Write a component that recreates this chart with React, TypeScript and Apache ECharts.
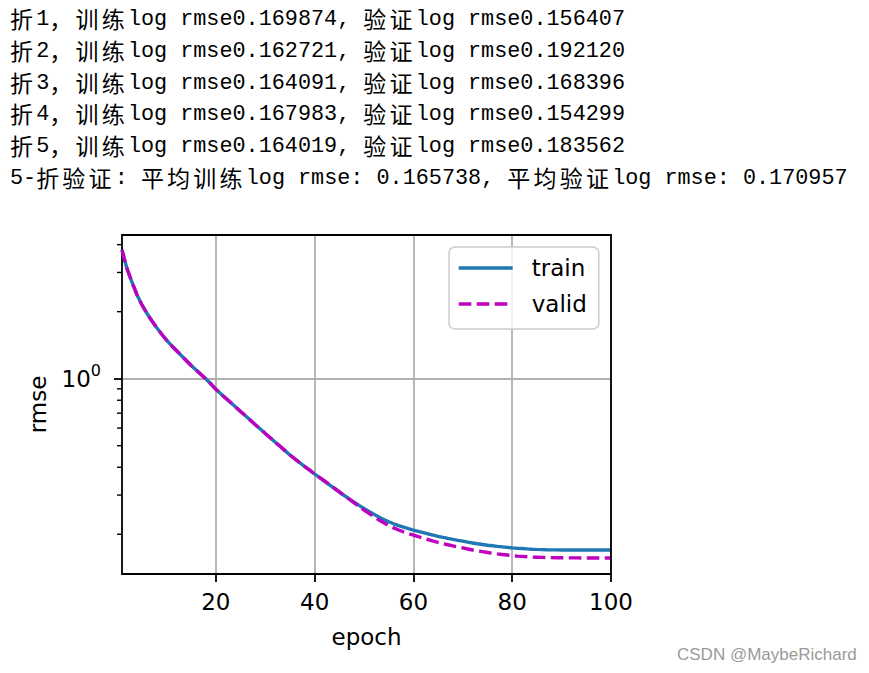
import React, { useEffect, useRef } from 'react';
import * as echarts from 'echarts';

const infoLines: string[] = [
  '折1，训练log rmse0.169874, 验证log rmse0.156407',
  '折2，训练log rmse0.162721, 验证log rmse0.192120',
  '折3，训练log rmse0.164091, 验证log rmse0.168396',
  '折4，训练log rmse0.167983, 验证log rmse0.154299',
  '折5，训练log rmse0.164019, 验证log rmse0.183562',
  '5-折验证: 平均训练log rmse: 0.165738, 平均验证log rmse: 0.170957',
];

const watermark = 'CSDN @MaybeRichard';

const epochs: number[] = Array.from({ length: 100 }, (_, i) => i + 1);

const trainRmse: number[] = [
  3.786, 3.127, 2.719, 2.389, 2.154, 1.973, 1.826, 1.698, 1.588, 1.492,
  1.41, 1.339, 1.271, 1.207, 1.146, 1.094, 1.044, 0.997, 0.947, 0.896,
  0.855, 0.817, 0.781, 0.746, 0.712, 0.681, 0.65, 0.621, 0.594, 0.567,
  0.543, 0.519, 0.497, 0.475, 0.454, 0.436, 0.419, 0.403, 0.388, 0.373,
  0.359, 0.3459, 0.3332, 0.3211, 0.3097, 0.2987, 0.2884, 0.2787, 0.2696, 0.2611,
  0.2533, 0.2461, 0.2393, 0.2332, 0.2276, 0.2229, 0.2188, 0.2152, 0.2119, 0.2089,
  0.2061, 0.2033, 0.2006, 0.1981, 0.1958, 0.1936, 0.1916, 0.1897, 0.1879, 0.1862,
  0.1845, 0.1828, 0.1813, 0.18, 0.1786, 0.1775, 0.1764, 0.1755, 0.1746, 0.1737,
  0.173, 0.1725, 0.1719, 0.1714, 0.171, 0.1707, 0.1703, 0.1702, 0.1701, 0.17,
  0.17, 0.17, 0.1699, 0.1699, 0.1699, 0.1699, 0.1699, 0.1699, 0.1699, 0.169874,
];

const validRmse: number[] = [
  3.786, 3.127, 2.719, 2.389, 2.154, 1.973, 1.826, 1.698, 1.588, 1.492,
  1.41, 1.339, 1.271, 1.207, 1.146, 1.094, 1.044, 0.997, 0.947, 0.896,
  0.855, 0.817, 0.781, 0.746, 0.712, 0.681, 0.65, 0.621, 0.594, 0.567,
  0.543, 0.519, 0.497, 0.475, 0.454, 0.436, 0.419, 0.403, 0.388, 0.373,
  0.3601, 0.3473, 0.3346, 0.3221, 0.3103, 0.2987, 0.2875, 0.2767, 0.2666, 0.2568,
  0.2481, 0.2398, 0.232, 0.2252, 0.2188, 0.2137, 0.2091, 0.205, 0.2014, 0.1982,
  0.1951, 0.1921, 0.1891, 0.1864, 0.1839, 0.1816, 0.1794, 0.1774, 0.1754, 0.1736,
  0.1718, 0.17, 0.1685, 0.1671, 0.1656, 0.1644, 0.1632, 0.1622, 0.1613, 0.1604,
  0.1596, 0.1591, 0.1585, 0.158, 0.1577, 0.1574, 0.1572, 0.157, 0.1569, 0.1568,
  0.1567, 0.1566, 0.1566, 0.1565, 0.1565, 0.1565, 0.1564, 0.1564, 0.1564, 0.156407,
];

const xTickValues: number[] = [20, 40, 60, 80, 100];
const yMajorTicks: number[] = [1];
const yMinorTicks: number[] = [0.2, 0.3, 0.4, 0.5, 0.6, 0.7, 0.8, 0.9, 2, 3, 4];
const xRange: [number, number] = [1, 100];
const yRange: [number, number] = [0.1326, 4.42];

const FONT = 'DejaVu Sans';
const LW = 3.4;
const FRAME = 1.8;
const VALID_DASH = [12.6, 5.4];

function toRich(s: string): string {
  let out = '';
  let buf = '';
  const flush = () => {
    if (buf) {
      out += `{a|${buf}}`;
      buf = '';
    }
  };
  for (const ch of s) {
    if (ch.charCodeAt(0) > 255) {
      flush();
      out += `{c|${ch}}`;
    } else {
      buf += ch;
    }
  }
  flush();
  return out;
}

export default function App() {
  const ref = useRef<HTMLDivElement>(null);

  useEffect(() => {
    if (!ref.current) return;
    const chart = echarts.init(ref.current, undefined, { renderer: 'svg' });

    const textElements: any[] = infoLines.map((line, i) => ({
      type: 'text',
      x: 10,
      y: 19.5 + i * 31.8,
      silent: true,
      style: {
        text: toRich(line),
        verticalAlign: 'middle',
        fill: '#000',
        rich: {
          a: {
            fontFamily: 'Liberation Mono',
            fontSize: 21.8,
            fill: '#000',
            lineHeight: 30,
            verticalAlign: 'middle',
          },
          c: {
            fontFamily: 'Noto Sans CJK SC',
            fontSize: 23,
            width: 26.2,
            fill: '#000',
            lineHeight: 30,
            padding: [0, 0, 3, 0],
            verticalAlign: 'middle',
          },
        },
      },
    }));
    textElements.push({
      type: 'text',
      x: 677,
      y: 654,
      silent: true,
      style: {
        text: watermark,
        verticalAlign: 'middle',
        fill: '#9a9a9a',
        fontFamily: 'Liberation Sans',
        fontSize: 17,
      },
    });

    const axisLineStyle = { color: '#000', width: FRAME };

    const option: any = {
      animation: false,
      backgroundColor: '#fff',
      grid: { left: 122, top: 235, width: 489, height: 339, containLabel: false },
      graphic: { elements: textElements },
      legend: {
        data: ['train', 'valid'],
        orient: 'vertical',
        left: 449,
        top: 247,
        padding: [9, 12, 13, 8],
        itemGap: 12,
        itemWidth: 54,
        itemHeight: 14,
        itemStyle: { opacity: 0 },
        lineStyle: { width: LW },
        backgroundColor: 'rgba(255,255,255,0.8)',
        borderColor: '#cccccc',
        borderWidth: 1.5,
        borderRadius: 6,
        textStyle: {
          fontFamily: FONT,
          fontSize: 23,
          color: '#000',
          lineHeight: 24,
          padding: [0, 0, 0, 14],
        },
      },
      xAxis: [
        {
          type: 'value',
          min: xRange[0],
          max: xRange[1],
          position: 'bottom',
          name: 'epoch',
          nameLocation: 'middle',
          nameGap: 51,
          nameTextStyle: { fontFamily: FONT, fontSize: 23, color: '#000' },
          axisLine: { show: true, onZero: false, lineStyle: axisLineStyle },
          axisTick: { show: true, length: 8, lineStyle: axisLineStyle, customValues: xTickValues },
          axisLabel: {
            customValues: xTickValues,
            fontFamily: FONT,
            fontSize: 23,
            color: '#000',
            margin: 16,
          },
          splitLine: { show: true, lineStyle: { color: '#b0b0b0', width: FRAME } },
        },
        {
          type: 'value',
          min: xRange[0],
          max: xRange[1],
          position: 'top',
          z: 3,
          axisLine: { show: true, onZero: false, lineStyle: axisLineStyle },
          axisTick: { show: false },
          axisLabel: { show: false },
          splitLine: { show: false },
        },
      ],
      yAxis: [
        {
          type: 'log',
          logBase: 10,
          min: yRange[0],
          max: yRange[1],
          position: 'left',
          name: 'rmse',
          nameLocation: 'middle',
          nameRotate: 90,
          nameGap: 73,
          nameTextStyle: { fontFamily: FONT, fontSize: 23, color: '#000' },
          axisLine: { show: true, onZero: false, lineStyle: axisLineStyle },
          axisTick: { show: true, length: 8, lineStyle: axisLineStyle, customValues: yMajorTicks },
          axisLabel: {
            customValues: yMajorTicks,
            margin: 21,
            formatter: () => '{b|10}{s|0}',
            rich: {
              b: { fontFamily: FONT, fontSize: 23, color: '#000', lineHeight: 32, verticalAlign: 'middle' },
              s: { fontFamily: FONT, fontSize: 16, color: '#000', lineHeight: 16, verticalAlign: 'top' },
            },
          },
          splitLine: { show: true, lineStyle: { color: '#b0b0b0', width: FRAME } },
        },
        {
          type: 'log',
          logBase: 10,
          min: yRange[0],
          max: yRange[1],
          position: 'right',
          z: 3,
          axisLine: { show: true, onZero: false, lineStyle: axisLineStyle },
          axisTick: { show: false },
          axisLabel: { show: false },
          splitLine: { show: false },
        },
      ],
      series: [
        {
          name: 'train',
          type: 'line',
          data: epochs.map((e, i) => [e, trainRmse[i]]),
          symbol: 'none',
          showSymbol: false,
          z: 2,
          lineStyle: { color: '#1f77b4', width: LW },
          itemStyle: { color: '#1f77b4' },
        },
        {
          name: 'valid',
          type: 'line',
          data: epochs.map((e, i) => [e, validRmse[i]]),
          symbol: 'none',
          showSymbol: false,
          z: 2,
          lineStyle: { color: '#bf00bf', width: LW, type: VALID_DASH },
          itemStyle: { color: '#bf00bf' },
        },
        {
          name: 'minorTicks',
          type: 'custom',
          coordinateSystem: 'cartesian2d',
          clip: false,
          silent: true,
          z: 3,
          data: yMinorTicks.map((v) => [xRange[0], v]),
          renderItem: (_params: any, api: any) => {
            const p = api.coord([api.value(0), api.value(1)]);
            return {
              type: 'line',
              shape: { x1: p[0] - 5, y1: p[1], x2: p[0], y2: p[1] },
              style: { stroke: '#000', lineWidth: 1.4 },
            };
          },
        },
      ],
    };

    chart.setOption(option);
    return () => chart.dispose();
  }, []);

  return (
    <div
      ref={ref}
      style={{ position: 'absolute', left: 0, top: 0, width: 869, height: 673 }}
    />
  );
}
